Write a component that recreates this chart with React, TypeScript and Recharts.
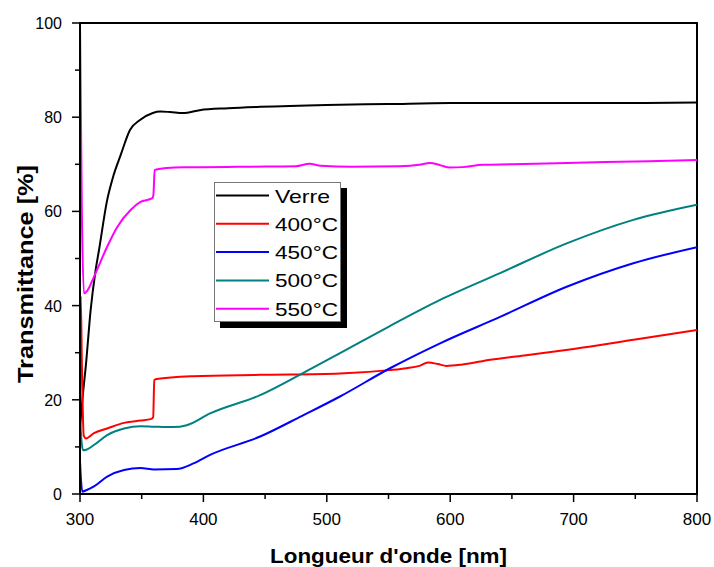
import { LineChart, Line, XAxis, YAxis, ReferenceArea, Legend } from "recharts";

// wavelength [nm] / transmittance [%]
const verreX = [300, 301.4, 305, 308.6, 312.7, 315.4, 322, 327, 333, 340.5, 348.6, 359, 365, 373, 383.5, 397, 420, 446, 500, 550, 600, 650, 700, 750, 800];
const verreY = [14, 18.5, 28, 39, 47.6, 51.8, 62.4, 67.5, 72, 77.3, 79.4, 80.9, 81.2, 81.1, 80.9, 81.5, 81.9, 82.2, 82.6, 82.8, 83.0, 83.0, 83.0, 83.0, 83.1];

const c400X = [300, 300.6, 301.5, 303, 304.9, 311.3, 322, 335.7, 349, 357.3, 359.3, 360.2, 362, 392, 446, 510.7, 551, 564.6, 575, 582, 590, 597, 610, 632.6, 660, 700, 750, 800];
const c400Y = [18, 42, 28, 12.4, 11.8, 12.9, 13.9, 15.1, 15.6, 15.9, 16.3, 24.2, 24.4, 25.0, 25.3, 25.6, 26.3, 26.7, 27.2, 27.9, 27.6, 27.2, 27.5, 28.5, 29.4, 30.8, 32.8, 34.8];

const c450X = [300, 300.8, 301.9, 305, 311.3, 322, 335.7, 349, 360, 378.4, 392, 405.4, 446, 480, 510.7, 551.2, 591.8, 640.4, 694.4, 748.4, 800];
const c450Y = [7, 3, 0.5, 0.8, 1.6, 3.7, 5.1, 5.5, 5.2, 5.3, 6.5, 8.3, 12.2, 16.6, 20.7, 26.7, 32.0, 37.6, 44.0, 49.0, 52.4];

const c500X = [300, 301, 302.4, 305, 311.3, 322, 335.7, 349, 360, 375.7, 386.5, 405.4, 446, 478, 510.7, 550, 591.8, 640.4, 694.4, 748.4, 800];
const c500Y = [17, 12, 9.3, 9.4, 10.4, 12.5, 13.9, 14.4, 14.3, 14.2, 14.6, 17.1, 21.0, 25.3, 29.9, 35.5, 41.2, 46.9, 53.2, 58.2, 61.4];

const c550X = [300, 301.5, 303.2, 306, 311.3, 322, 330.2, 341, 349, 358.6, 359.5, 360.5, 370, 384, 400, 440, 475, 486, 495, 520, 559, 575, 583.6, 592, 599.8, 610, 626.6, 650, 694.4, 750, 800];
const c550Y = [100, 60, 42.6, 43.2, 46.1, 52.5, 56.7, 60.3, 62, 62.8, 63.5, 68.8, 69.2, 69.4, 69.4, 69.5, 69.6, 70.1, 69.7, 69.5, 69.6, 69.9, 70.3, 69.8, 69.3, 69.4, 69.9, 70.0, 70.3, 70.6, 70.9];

const xTicks = [300, 350, 400, 450, 500, 550, 600, 650, 700, 750, 800];
const yTicks = [0, 10, 20, 30, 40, 50, 60, 70, 80, 90, 100];

const toPoints = (xs: number[], ys: number[]) => xs.map((x, i) => ({ x, y: ys[i] }));

const series = [
  { name: "Verre", color: "#000000", data: toPoints(verreX, verreY), width: 55 },
  { name: "400°C", color: "#ff0000", data: toPoints(c400X, c400Y), width: 63 },
  { name: "450°C", color: "#0000ff", data: toPoints(c450X, c450Y), width: 63 },
  { name: "500°C", color: "#008080", data: toPoints(c500X, c500Y), width: 63 },
  { name: "550°C", color: "#ff00ff", data: toPoints(c550X, c550Y), width: 63 },
];

const font = "'Liberation Sans', Arial, sans-serif";

const XTick = (props: any) => {
  const { x, y, payload } = props;
  const major = payload.value % 100 === 0;
  return (
    <g>
      <line x1={x} y1={y} x2={x} y2={y + (major ? 8 : 5)} stroke="#000" strokeWidth={1.5} />
      {major && (
        <text x={x} y={y + 31} textAnchor="middle" fontSize={17} fontFamily={font} fill="#000">
          {payload.value}
        </text>
      )}
    </g>
  );
};

const YTick = (props: any) => {
  const { x, y, payload } = props;
  const major = payload.value % 20 === 0;
  return (
    <g>
      <line x1={x - (major ? 8 : 5)} y1={y} x2={x} y2={y} stroke="#000" strokeWidth={1.5} />
      {major && (
        <text x={x - 18} y={y + 6} textAnchor="end" fontSize={16} fontFamily={font} fill="#000">
          {payload.value}
        </text>
      )}
    </g>
  );
};

const XTitle = (props: any) => {
  const vb = props.viewBox;
  return (
    <text x={vb.x + vb.width / 2} y={vb.y + 69} textAnchor="middle" fontSize={20} fontWeight="bold"
      fontFamily={font} textLength={237} lengthAdjust="spacingAndGlyphs">
      Longueur d'onde [nm]
    </text>
  );
};

const YTitle = () => (
  <text x={33} y={274} transform="rotate(-90, 33, 274)" textAnchor="middle" fontSize={22} fontWeight="bold"
    fontFamily={font} textLength={218} lengthAdjust="spacingAndGlyphs">
    Transmittance [%]
  </text>
);

const LegendBox = () => (
  <svg width={140} height={150} style={{ display: "block" }}>
    <rect x={6} y={6} width={127} height={140} fill="#000" />
    <rect x={0.5} y={0.5} width={126} height={139} fill="#fff" stroke="#777" />
    {series.map((s, i) => {
      const cy = 13.5 + i * 28.3;
      return (
        <g key={s.name}>
          <line x1={2} y1={cy} x2={55} y2={cy} stroke={s.color} strokeWidth={2} />
          <text x={61} y={cy + 7} fontSize={19} fontFamily={font} textLength={s.width} lengthAdjust="spacingAndGlyphs">
            {s.name}
          </text>
        </g>
      );
    })}
  </svg>
);

export default function App() {
  return (
    <div style={{ position: "absolute", left: 0, top: 0, background: "#fff" }}>
      <LineChart width={714} height={567} margin={{ top: 23, right: 17, bottom: 0, left: 0 }}>
        <XAxis
          dataKey="x"
          type="number"
          domain={[300, 800]}
          ticks={xTicks}
          interval={0}
          height={73}
          tickSize={0}
          tickMargin={0}
          tick={<XTick />}
          axisLine={{ stroke: "#000", strokeWidth: 2 }}
          allowDataOverflow
          label={<XTitle />}
        />
        <YAxis
          type="number"
          domain={[0, 100]}
          ticks={yTicks}
          interval={0}
          width={80}
          tickSize={0}
          tickMargin={0}
          tick={<YTick />}
          axisLine={{ stroke: "#000", strokeWidth: 2 }}
          allowDataOverflow
          label={<YTitle />}
        />
        <ReferenceArea x1={300} x2={800} y1={0} y2={100} fill="none" stroke="#000" strokeWidth={2} ifOverflow="visible" />
        {series.map((s) => (
          <Line
            key={s.name}
            data={s.data}
            dataKey="y"
            name={s.name}
            type="monotone"
            stroke={s.color}
            strokeWidth={2}
            dot={false}
            isAnimationActive={false}
          />
        ))}
        <Legend
          layout="vertical"
          align="center"
          verticalAlign="middle"
          content={<LegendBox />}
          wrapperStyle={{ position: "absolute", left: 214, top: 182, width: 140, height: 150 }}
        />
      </LineChart>
    </div>
  );
}
